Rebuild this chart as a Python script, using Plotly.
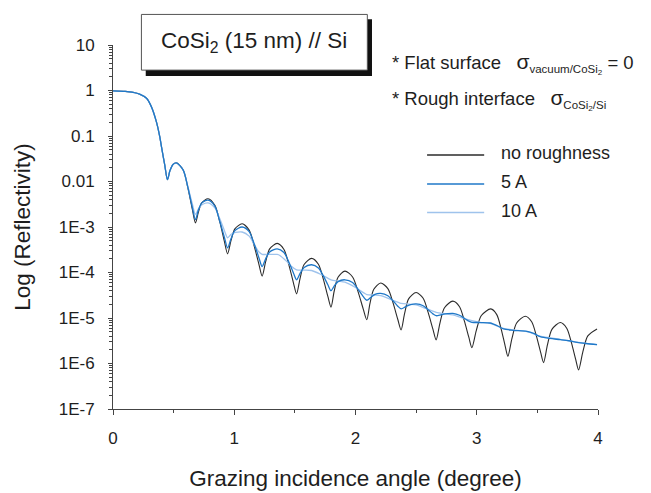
import plotly.graph_objects as go

# ---- data (angle in degrees, log10 of reflectivity) ----
angle_none = [0.000, 0.100, 0.165, 0.220, 0.276, 0.317, 0.358, 0.386, 0.400, 0.427, 0.449, 0.470, 0.495, 0.524,
              0.579, 0.618, 0.655, 0.680, 0.704, 0.732, 0.784,
              0.840, 0.881, 0.919, 0.945, 0.973, 1.005, 1.065,
              1.123, 1.164, 1.204, 1.230, 1.259, 1.292, 1.354,
              1.410, 1.450, 1.488, 1.514, 1.543, 1.576, 1.638,
              1.694, 1.734, 1.772, 1.798, 1.824, 1.856, 1.913,
              1.976, 2.021, 2.064, 2.093, 2.119, 2.151, 2.208,
              2.267, 2.309, 2.349, 2.376, 2.405, 2.438, 2.500,
              2.558, 2.599, 2.639, 2.665, 2.697, 2.734, 2.803,
              2.858, 2.897, 2.935, 2.960, 2.996, 3.038, 3.116,
              3.165, 3.201, 3.234, 3.257, 3.290, 3.329, 3.400,
              3.453, 3.491, 3.527, 3.551, 3.583, 3.620, 3.689,
              3.742, 3.780, 3.816, 3.840, 3.875, 3.916, 3.992]
logr_none = [-0.007, -0.020, -0.040, -0.080, -0.170, -0.360, -0.690, -1.020, -1.240, -1.640, -1.960, -1.760, -1.625, -1.590,
             -1.748, -2.144, -2.620, -2.910, -2.677, -2.470, -2.380,
             -2.525, -2.888, -3.324, -3.590, -3.300, -3.042, -2.930,
             -3.068, -3.413, -3.827, -4.080, -3.763, -3.482, -3.360,
             -3.493, -3.826, -4.226, -4.470, -4.127, -3.823, -3.690,
             -3.818, -4.139, -4.525, -4.760, -4.412, -4.104, -3.970,
             -4.098, -4.419, -4.805, -5.040, -4.684, -4.368, -4.230,
             -4.354, -4.663, -5.033, -5.260, -4.899, -4.579, -4.440,
             -4.565, -4.877, -5.251, -5.480, -5.106, -4.775, -4.630,
             -4.752, -5.058, -5.426, -5.650, -5.276, -4.945, -4.800,
             -4.925, -5.237, -5.611, -5.840, -5.453, -5.110, -4.960,
             -5.082, -5.388, -5.756, -5.980, -5.593, -5.250, -5.100,
             -5.225, -5.537, -5.911, -6.140, -5.744, -5.393, -5.240]

angle_5a = [0.000, 0.100, 0.165, 0.220, 0.276, 0.317, 0.358, 0.386, 0.400, 0.427, 0.449, 0.470, 0.495, 0.524,
            0.579, 0.618, 0.655, 0.680, 0.704, 0.732, 0.784,
            0.840, 0.881, 0.919, 0.945, 0.973, 1.005, 1.065,
            1.123, 1.164, 1.204, 1.230, 1.259, 1.292, 1.354,
            1.410, 1.450, 1.488, 1.514, 1.543, 1.576, 1.638,
            1.694, 1.734, 1.772, 1.798, 1.824, 1.856, 1.913,
            1.976, 2.021, 2.064, 2.093, 2.125, 2.160, 2.208,
            2.267, 2.309, 2.349, 2.376, 2.415, 2.455, 2.500,
            2.558, 2.599, 2.639, 2.665, 2.710, 2.760, 2.803,
            2.858, 2.900, 2.935, 2.960, 3.030, 3.111,
            3.170, 3.220, 3.300, 3.414, 3.470, 3.523, 3.600, 3.689, 3.760, 3.827, 3.900, 3.992]
logr_5a = [-0.007, -0.020, -0.040, -0.080, -0.170, -0.360, -0.690, -1.020, -1.240, -1.640, -1.960, -1.760, -1.625, -1.590,
           -1.750, -2.130, -2.580, -2.840, -2.630, -2.470, -2.410,
           -2.540, -2.880, -3.230, -3.460, -3.260, -3.080, -3.000,
           -3.100, -3.370, -3.680, -3.870, -3.700, -3.550, -3.480,
           -3.560, -3.770, -4.010, -4.160, -4.020, -3.890, -3.830,
           -3.900, -4.070, -4.270, -4.400, -4.300, -4.200, -4.160,
           -4.220, -4.370, -4.530, -4.610, -4.550, -4.480, -4.460,
           -4.510, -4.620, -4.740, -4.800, -4.750, -4.705, -4.690,
           -4.730, -4.820, -4.910, -4.950, -4.925, -4.905, -4.900,
           -4.940, -5.010, -5.070, -5.095, -5.100, -5.110,
           -5.170, -5.240, -5.270, -5.293, -5.340, -5.410, -5.450, -5.476, -5.500, -5.535, -5.560, -5.586]

angle_10a = [0.000, 0.100, 0.165, 0.220, 0.276, 0.317, 0.358, 0.386, 0.400, 0.427, 0.449, 0.470, 0.495, 0.524,
             0.579, 0.618, 0.655, 0.680, 0.710, 0.740, 0.784,
             0.840, 0.881, 0.919, 0.945, 0.975, 1.010, 1.065,
             1.123, 1.164, 1.204, 1.230, 1.290, 1.354, 1.376,
             1.430, 1.470, 1.514, 1.576, 1.638, 1.720, 1.798, 1.855, 1.913,
             2.000, 2.093, 2.150, 2.208, 2.290, 2.376, 2.440, 2.500,
             2.580, 2.665, 2.730, 2.803, 2.880, 2.960, 3.028,
             3.111, 3.220, 3.414, 3.523, 3.689, 3.827, 3.992]
logr_10a = [-0.007, -0.020, -0.040, -0.080, -0.170, -0.360, -0.690, -1.020, -1.240, -1.640, -1.960, -1.760, -1.625, -1.590,
            -1.750, -2.120, -2.500, -2.720, -2.580, -2.500, -2.470,
            -2.580, -2.820, -3.080, -3.236, -3.160, -3.120, -3.110,
            -3.200, -3.380, -3.550, -3.600, -3.600, -3.604, -3.626,
            -3.750, -3.860, -3.941, -3.948, -3.956, -4.050, -4.161, -4.190, -4.214,
            -4.330, -4.484, -4.495, -4.506, -4.590, -4.676, -4.695, -4.711,
            -4.790, -4.874, -4.905, -4.932, -5.000, -5.057, -5.095,
            -5.120, -5.230, -5.300, -5.400, -5.470, -5.530, -5.585]

series_names = ["no roughness", "5 A", "10 A"]
series_colors = ["#2b2b2b", "#1f78c8", "#9fc3ec"]

x_tick_vals = [0, 1, 2, 3, 4]
y_tick_vals = [10, 1, 0.1, 0.01, 1e-3, 1e-4, 1e-5, 1e-6, 1e-7]
y_tick_text = ["10", "1", "0.1", "0.01", "1E-3", "1E-4", "1E-5", "1E-6", "1E-7"]

FONT = "Liberation Sans, Arial, Helvetica, sans-serif"
TXT = "#1e1e1e"
AX = "#444444"

fig = go.Figure()
curves = [(angle_none, logr_none), (angle_10a, logr_10a), (angle_5a, logr_5a)]
order = [0, 2, 1]
for idx, (xs, ls) in zip(order, curves):
    fig.add_trace(go.Scatter(
        x=xs, y=[10 ** v for v in ls], mode="lines", name=series_names[idx],
        line=dict(color=series_colors[idx], width=1.3 if idx else 1.1, shape="spline", smoothing=0.8),
        showlegend=False))

# manual legend (line samples + labels)
leg_y_line = [0.698, 0.618, 0.540]
leg_y_text = [0.7025, 0.6228, 0.544]
shapes = []
annotations = []
for i, name in enumerate(series_names):
    shapes.append(dict(type="line", xref="paper", yref="paper", x0=0.6476, x1=0.7653,
                       y0=leg_y_line[i], y1=leg_y_line[i],
                       line=dict(color=series_colors[i], width=1.4)))
    annotations.append(dict(xref="paper", yref="paper", x=0.7962, y=leg_y_text[i], text=name,
                            showarrow=False, xanchor="left", yanchor="middle",
                            font=dict(size=18, color=TXT, family=FONT)))

# title box with drop shadow
shapes.append(dict(type="rect", xref="paper", yref="paper", x0=0.0675, x1=0.534, y0=0.915, y1=1.071,
                   fillcolor="#111111", line=dict(width=0), layer="above"))
shapes.append(dict(type="rect", xref="paper", yref="paper", x0=0.0586, x1=0.5244, y0=0.931, y1=1.084,
                   fillcolor="white", line=dict(color="#555555", width=1), layer="above"))
annotations.append(dict(xref="paper", yref="paper", x=0.2915, y=1.008,
                        text="CoSi<sub>2</sub> (15 nm) // Si", showarrow=False,
                        xanchor="center", yanchor="middle",
                        font=dict(size=22.5, color=TXT, family=FONT)))

sig = '<span style="font-size:21px">σ</span>'
annotations.append(dict(xref="paper", yref="paper", x=0.5712, y=0.948,
                        text="* Flat surface\u00a0\u00a0\u00a0" + sig +
                             '<sub><span style="font-size:11.5px">vacuum/CoSi<sub>2</sub></span></sub> = 0',
                        showarrow=False, xanchor="left", yanchor="middle",
                        font=dict(size=18.5, color=TXT, family=FONT)))
annotations.append(dict(xref="paper", yref="paper", x=0.5712, y=0.849,
                        text="* Rough interface\u00a0\u00a0\u00a0" + sig +
                             '<sub><span style="font-size:11.5px">CoSi<sub>2</sub>/Si</span></sub>',
                        showarrow=False, xanchor="left", yanchor="middle",
                        font=dict(size=18.5, color=TXT, family=FONT)))

fig.update_layout(
    width=651, height=493,
    margin=dict(l=113, r=53, t=45, b=84, autoexpand=False),
    plot_bgcolor="white", paper_bgcolor="white",
    font=dict(family=FONT, color=TXT),
    showlegend=False,
    shapes=shapes, annotations=annotations,
)
fig.update_xaxes(
    range=[0, 4], tickvals=x_tick_vals, ticks="outside", ticklen=5, tickcolor=AX,
    showline=True, linecolor=AX, linewidth=1, showgrid=False, zeroline=False, automargin=False,
    minor=dict(dtick=0.5, ticks="outside", ticklen=3, tickcolor=AX, showgrid=False),
    tickfont=dict(size=17, color=TXT, family=FONT), ticklabelstandoff=9,
    title=dict(text="Grazing incidence angle (degree)", standoff=22,
               font=dict(size=22.5, color=TXT, family=FONT)),
)
fig.update_yaxes(
    type="log", range=[-7, 1], tickvals=y_tick_vals, ticktext=y_tick_text,
    ticks="outside", ticklen=4, tickcolor=AX,
    showline=True, linecolor=AX, linewidth=1, showgrid=False, zeroline=False, automargin=False,
    minor=dict(dtick="D1", ticks="outside", ticklen=3, tickcolor=AX, showgrid=False),
    tickfont=dict(size=17, color=TXT, family=FONT), ticklabelstandoff=10,
    title=dict(text="Log (Reflectivity)", standoff=21,
               font=dict(size=22.5, color=TXT, family=FONT)),
)

fig.write_html("out.html", config={"displayModeBar": False},
               post_script="document.body.style.margin='0';document.body.style.padding='0';")
